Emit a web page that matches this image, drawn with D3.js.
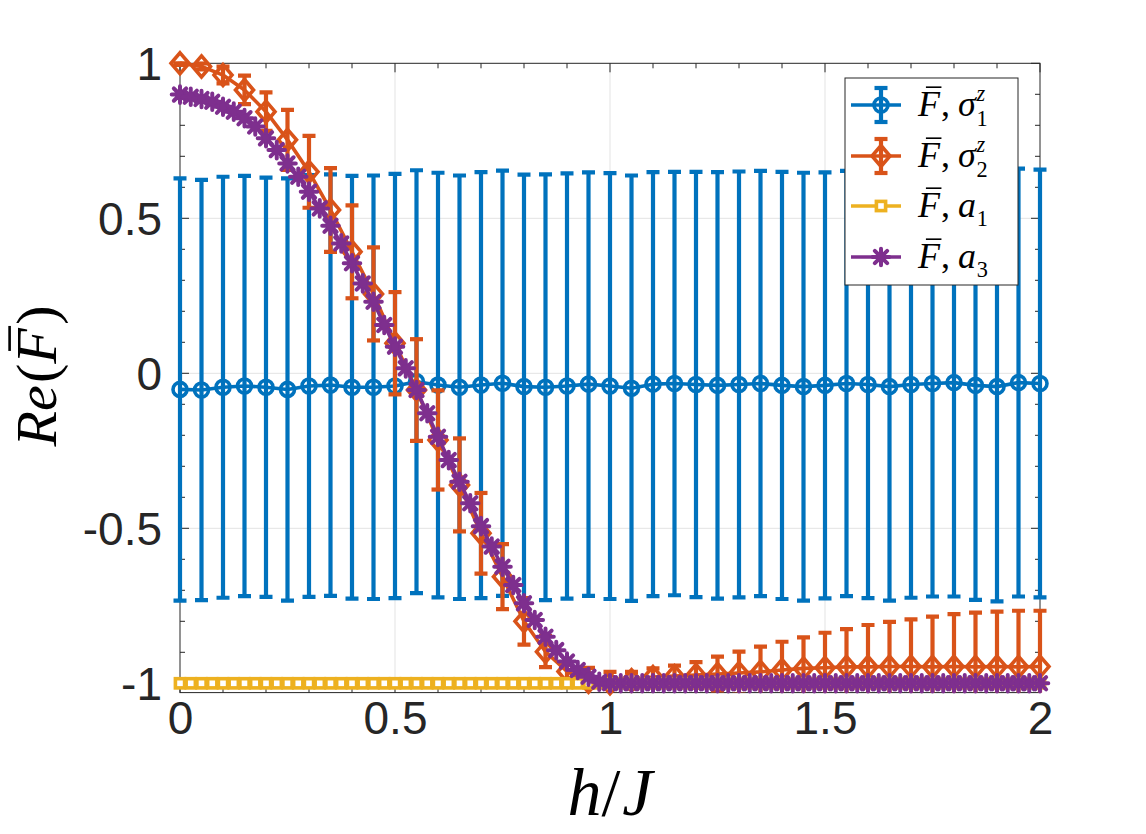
<!DOCTYPE html>
<html>
<head>
<meta charset="utf-8">
<script src="https://cdn.jsdelivr.net/npm/d3@7"></script>
<style>
  body { margin: 0; background: #fff; }
  svg { display: block; }
</style>
</head>
<body>
<svg id="chart" width="1146" height="834"></svg>
<script>
// h/J grid, coarse (error-bar series) and fine (a1, a3)
const hCoarse = [0,0.05,0.1,0.15,0.2,0.25,0.3,0.35,0.4,0.45,0.5,0.55,0.6,0.65,0.7,0.75,0.8,0.85,0.9,0.95,
  1,1.05,1.1,1.15,1.2,1.25,1.3,1.35,1.4,1.45,1.5,1.55,1.6,1.65,1.7,1.75,1.8,1.85,1.9,1.95,2];
const hFine = [0,0.025,0.05,0.075,0.1,0.125,0.15,0.175,0.2,0.225,0.25,0.275,0.3,0.325,0.35,0.375,0.4,0.425,0.45,0.475,
  0.5,0.525,0.55,0.575,0.6,0.625,0.65,0.675,0.7,0.725,0.75,0.775,0.8,0.825,0.85,0.875,0.9,0.925,0.95,0.975,
  1,1.025,1.05,1.075,1.1,1.125,1.15,1.175,1.2,1.225,1.25,1.275,1.3,1.325,1.35,1.375,1.4,1.425,1.45,1.475,
  1.5,1.525,1.55,1.575,1.6,1.625,1.65,1.675,1.7,1.725,1.75,1.775,1.8,1.825,1.85,1.875,1.9,1.925,1.95,1.975,2];

// F, sigma_1^z
const sig1 = [-0.052,-0.054,-0.045,-0.041,-0.045,-0.052,-0.041,-0.038,-0.045,-0.045,-0.041,-0.027,-0.038,-0.045,-0.038,-0.032,-0.043,-0.045,-0.041,-0.035,
  -0.041,-0.048,-0.035,-0.033,-0.036,-0.039,-0.036,-0.033,-0.039,-0.043,-0.039,-0.033,-0.036,-0.043,-0.036,-0.033,-0.030,-0.039,-0.043,-0.030,-0.033];
const sig1Err = [0.681,0.678,0.679,0.678,0.676,0.681,0.68,0.68,0.682,0.683,0.684,0.682,0.685,0.683,0.687,0.686,0.684,0.687,0.686,0.683,
  0.687,0.686,0.684,0.683,0.686,0.688,0.687,0.686,0.689,0.69,0.687,0.686,0.689,0.69,0.688,0.687,0.69,0.692,0.693,0.69,0.69];

// F, sigma_2^z
const sig2 = [1.0,0.99,0.962,0.914,0.844,0.753,0.65,0.527,0.392,0.256,0.097,-0.054,-0.215,-0.36,-0.516,-0.656,-0.80,-0.898,-0.962,-0.995,
  -1.0,-0.99,-0.98,-0.977,-0.973,-0.97,-0.967,-0.963,-0.957,-0.952,-0.95,-0.947,-0.947,-0.946,-0.946,-0.947,-0.946,-0.947,-0.946,-0.947,-0.946];
const sig2Err = [0.005,0.01,0.027,0.046,0.062,0.097,0.116,0.135,0.15,0.15,0.165,0.164,0.16,0.15,0.13,0.105,0.075,0.05,0.03,0.045,
  0.037,0.027,0.028,0.034,0.041,0.056,0.069,0.081,0.091,0.10,0.113,0.122,0.135,0.144,0.152,0.162,0.169,0.175,0.177,0.181,0.18];

// F, a_1
const a1 = [-1,-1,-1,-1,-1,-1,-1,-1,-1,-1,-1,-1,-1,-1,-1,-1,-1,-1,-1,-1,
  -1,-1,-1,-1,-1,-1,-1,-1,-1,-1,-1,-1,-1,-1,-1,-1,-1,-1,-1,-1,
  -1,-1,-1,-1,-1,-1,-1,-1,-1,-1,-1,-1,-1,-1,-1,-1,-1,-1,-1,-1,
  -1,-1,-1,-1,-1,-1,-1,-1,-1,-1,-1,-1,-1,-1,-1,-1,-1,-1,-1,-1,-1];

// F, a_3
const a3 = [0.899,0.892,0.885,0.876,0.86,0.844,0.823,0.796,0.758,0.72,0.677,0.634,0.586,0.532,0.476,0.419,0.355,0.29,0.231,0.156,
  0.086,0.016,-0.054,-0.129,-0.205,-0.28,-0.35,-0.419,-0.493,-0.559,-0.624,-0.683,-0.742,-0.796,-0.85,-0.893,-0.93,-0.957,-0.979,-0.995,
  -1,-1,-1,-1,-1,-1,-1,-1,-1,-1,-1,-1,-1,-1,-1,-1,-1,-1,-1,-1,
  -1,-1,-1,-1,-1,-1,-1,-1,-1,-1,-1,-1,-1,-1,-1,-1,-1,-1,-1,-1,-1];

const xTicks = [0, 0.5, 1, 1.5, 2];
const yTicks = [-1, -0.5, 0, 0.5, 1];
const xMinor = [0.1,0.2,0.3,0.4,0.6,0.7,0.8,0.9,1.1,1.2,1.3,1.4,1.6,1.7,1.8,1.9];
const yMinor = [-0.9,-0.8,-0.7,-0.6,-0.4,-0.3,-0.2,-0.1,0.1,0.2,0.3,0.4,0.6,0.7,0.8,0.9];

const BLUE = '#0072BD', ORANGE = '#D95319', YELLOW = '#EDB120', PURPLE = '#7E2F8E';
const AX = '#262626', GRID = '#e3e3e3';
const SANS = '"Liberation Sans", Arial, Helvetica, sans-serif';
const SERIF = '"Liberation Serif", "Times New Roman", serif';

const svg = d3.select('#chart');
const L = 180, R = 1040, T = 63.3, B = 692.6;
const x = d3.scaleLinear().domain([0, 2]).range([L, R]);
const y = d3.scaleLinear().domain([-1.03, 1]).range([B, T]);

svg.append('defs').append('clipPath').attr('id', 'plotClip')
  .append('rect').attr('x', L - 10).attr('y', T - 2).attr('width', R - L + 20).attr('height', B - T + 2);

// grid
const grid = svg.append('g');
xTicks.filter(d => d > 0 && d < 2).forEach(d => {
  grid.append('line').attr('x1', x(d)).attr('x2', x(d)).attr('y1', T).attr('y2', B)
    .attr('stroke', GRID).attr('stroke-width', 1);
});
yTicks.filter(d => d < 1).forEach(d => {
  grid.append('line').attr('x1', L).attr('x2', R).attr('y1', y(d)).attr('y2', y(d))
    .attr('stroke', GRID).attr('stroke-width', 1);
});

// axes box + ticks (inward on all sides)
const axes = svg.append('g');
const tick = (x1, y1, x2, y2) => axes.append('line').attr('x1', x1).attr('y1', y1).attr('x2', x2).attr('y2', y2)
  .attr('stroke', AX).attr('stroke-width', 1);
xTicks.forEach(d => { tick(x(d), B, x(d), B - 9); tick(x(d), T, x(d), T + 9); });
xMinor.forEach(d => { tick(x(d), B, x(d), B - 5); tick(x(d), T, x(d), T + 5); });
yTicks.forEach(d => { tick(L, y(d), L + 9, y(d)); tick(R, y(d), R - 9, y(d)); });
yMinor.forEach(d => { tick(L, y(d), L + 5, y(d)); tick(R, y(d), R - 5, y(d)); });
axes.append('rect').attr('x', L).attr('y', T).attr('width', R - L).attr('height', B - T)
  .attr('fill', 'none').attr('stroke', AX).attr('stroke-width', 1);

// tick labels via d3 axes (plain hyphen minus, like MATLAB)
const fmt = d => String(d);
const xAxis = svg.append('g').attr('transform', `translate(0,${B})`)
  .call(d3.axisBottom(x).tickValues(xTicks).tickSize(0).tickPadding(7).tickFormat(fmt));
const yAxis = svg.append('g').attr('transform', `translate(${L},0)`)
  .call(d3.axisLeft(y).tickValues(yTicks).tickSize(0).tickPadding(18).tickFormat(fmt));
[xAxis, yAxis].forEach(a => {
  a.select('.domain').remove();
  a.selectAll('text').attr('font-family', SANS).attr('font-size', 46).attr('fill', AX);
});
xAxis.selectAll('text').attr('dy', '0.75em');
yAxis.selectAll('text').attr('dy', '0.36em');

// marker shapes
function marker(g, kind, color) {
  if (kind === 'circle') {
    g.append('circle').attr('r', 7).attr('fill', 'none').attr('stroke', color).attr('stroke-width', 3.6);
  } else if (kind === 'diamond') {
    g.append('path').attr('d', 'M0,-10.5L9,0L0,10.5L-9,0Z').attr('fill', 'none')
      .attr('stroke', color).attr('stroke-width', 3.6).attr('stroke-linejoin', 'miter');
  } else if (kind === 'square') {
    g.append('rect').attr('x', -4.6).attr('y', -4.6).attr('width', 9.2).attr('height', 9.2)
      .attr('fill', '#fff').attr('stroke', color).attr('stroke-width', 3.6);
  } else if (kind === 'star') {
    const s = 8.3, d = s * 0.74;
    g.append('path').attr('d', `M${-s},0L${s},0M0,${-s}L0,${s}M${-d},${-d}L${d},${d}M${-d},${d}L${d},${-d}`)
      .attr('stroke', color).attr('stroke-width', 4).attr('stroke-linecap', 'round').attr('fill', 'none');
    g.append('circle').attr('r', 4).attr('fill', color);
  }
}

function drawSeries(xs, ys, errs, color, kind) {
  const g = svg.append('g');
  const line = d3.line().x((d, i) => x(xs[i])).y(d => y(d));
  g.append('path').datum(ys).attr('d', line).attr('fill', 'none')
    .attr('stroke', color).attr('stroke-width', 3.6).attr('stroke-linejoin', 'round');
  if (errs) {
    const eg = g.append('g').attr('clip-path', 'url(#plotClip)')
      .attr('stroke', color).attr('stroke-width', 4.2).attr('fill', 'none');
    ys.forEach((v, i) => {
      const cx = x(xs[i]), y0 = y(v + errs[i]), y1 = y(v - errs[i]);
      eg.append('line').attr('x1', cx).attr('x2', cx).attr('y1', y0).attr('y2', y1);
      eg.append('line').attr('x1', cx - 6.5).attr('x2', cx + 6.5).attr('y1', y0).attr('y2', y0);
      eg.append('line').attr('x1', cx - 6.5).attr('x2', cx + 6.5).attr('y1', y1).attr('y2', y1);
    });
  }
  ys.forEach((v, i) => {
    marker(g.append('g').attr('transform', `translate(${x(xs[i])},${y(v)})`), kind, color);
  });
}

drawSeries(hCoarse, sig1, sig1Err, BLUE, 'circle');
drawSeries(hCoarse, sig2, sig2Err, ORANGE, 'diamond');
drawSeries(hFine, a1, null, YELLOW, 'square');
drawSeries(hFine, a3, null, PURPLE, 'star');

// LaTeX-like text built from pieces
function mathText(g, pieces, size) {
  let cx = 0, prevStart = 0;
  pieces.forEach(p => {
    const fs = size * (p.scale || 1);
    const start = p.stack ? prevStart : cx;
    const t = g.append('text').attr('x', start).attr('y', (p.dy || 0) * size)
      .attr('font-family', SERIF).attr('font-size', fs).attr('fill', '#000')
      .attr('font-style', p.italic ? 'italic' : 'normal').text(p.t);
    const w = t.node().getComputedTextLength();
    if (p.bar) {
      g.append('line').attr('x1', start + 0.22 * fs).attr('x2', start + w + 0.04 * fs)
        .attr('y1', -0.8 * fs).attr('y2', -0.8 * fs).attr('stroke', '#000').attr('stroke-width', fs * 0.045);
    }
    prevStart = start;
    cx = Math.max(cx, start + w + (p.gap || 0) * size);
  });
  return cx;
}

// y label
const yl = svg.append('g');
const ylw = mathText(yl, [
  { t: 'R', italic: true }, { t: 'e', italic: true, gap: 0.04 }, { t: '(' },
  { t: 'F', italic: true, bar: true, gap: 0.06 }, { t: ')' }
], 58);
yl.attr('transform', `translate(56,${376 + ylw / 2}) rotate(-90)`);

// x label
const xl = svg.append('g');
const xlw = mathText(xl, [{ t: 'h', italic: true }, { t: '/', gap: 0.03 }, { t: 'J', italic: true }], 68);
xl.attr('transform', `translate(${610 - xlw / 2},815)`);

// legend
const legendItems = [
  { color: BLUE, kind: 'circle', err: true, sym: 'σ', sub: '1', sup: 'z' },
  { color: ORANGE, kind: 'diamond', err: true, sym: 'σ', sub: '2', sup: 'z' },
  { color: YELLOW, kind: 'square', err: false, sym: 'a', sub: '1' },
  { color: PURPLE, kind: 'star', err: false, sym: 'a', sub: '3' }
];
const lg = svg.append('g');
lg.append('rect').attr('x', 845).attr('y', 78).attr('width', 173).attr('height', 207)
  .attr('fill', '#fff').attr('stroke', AX).attr('stroke-width', 1);
const legendY = [105, 156, 206, 257];
legendItems.forEach((it, i) => {
  const cy = legendY[i];
  lg.append('line').attr('x1', 851).attr('x2', 901).attr('y1', cy).attr('y2', cy)
    .attr('stroke', it.color).attr('stroke-width', 3.6);
  if (it.err) {
    const eg = lg.append('g').attr('stroke', it.color).attr('stroke-width', 4.2);
    eg.append('line').attr('x1', 881).attr('x2', 881).attr('y1', cy - 17).attr('y2', cy + 17);
    eg.append('line').attr('x1', 874.5).attr('x2', 887.5).attr('y1', cy - 17).attr('y2', cy - 17);
    eg.append('line').attr('x1', 874.5).attr('x2', 887.5).attr('y1', cy + 17).attr('y2', cy + 17);
  }
  marker(lg.append('g').attr('transform', `translate(881,${cy})`), it.kind, it.color);
  const tg = lg.append('g').attr('transform', `translate(918,${cy + 11})`);
  const pieces = [
    { t: 'F', italic: true, bar: true, gap: 0.03 }, { t: ',', gap: 0.22 },
    { t: it.sym, italic: true, gap: 0.02 }
  ];
  if (it.sup) {
    pieces.push({ t: it.sup, italic: true, scale: 0.62, dy: -0.42 });
    pieces.push({ t: it.sub, scale: 0.62, dy: 0.28, stack: true });
  } else {
    pieces.push({ t: it.sub, scale: 0.62, dy: 0.25 });
  }
  mathText(tg, pieces, 36);
});
</script>
</body>
</html>
